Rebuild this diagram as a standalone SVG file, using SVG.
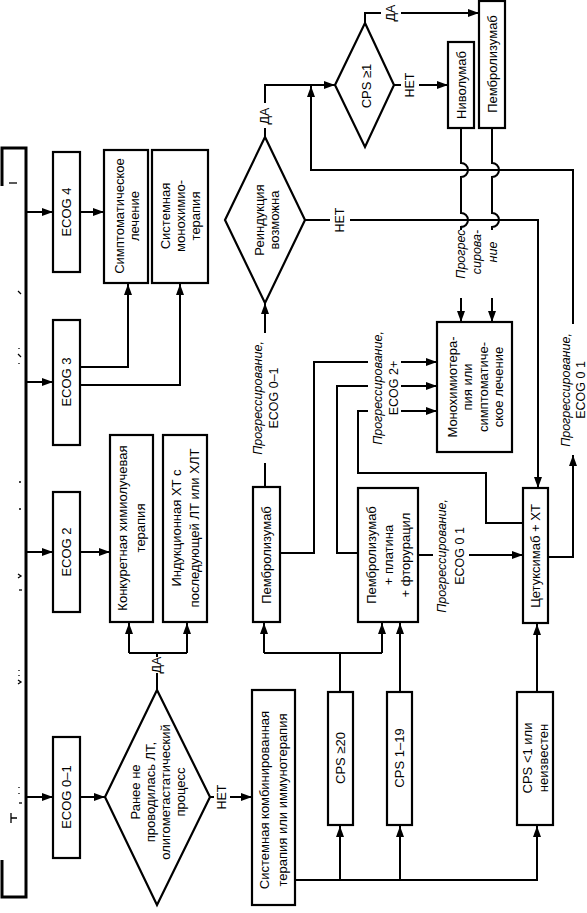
<svg xmlns="http://www.w3.org/2000/svg" width="587" height="913" viewBox="0 0 587 913">
<style>
.box{fill:#fff;stroke:#000;stroke-width:2.2}
.ln{fill:none;stroke:#000;stroke-width:2}
.bar{fill:none;stroke:#000;stroke-width:3}
.mk{fill:none;stroke:#000;stroke-width:1.3}
text{font-family:"Liberation Sans",Arial,sans-serif;font-size:13px;fill:#000;text-anchor:middle;dominant-baseline:central}
.lb{font-size:12.5px}
.it{font-style:italic}
</style>
<defs>
<marker id="ar" markerUnits="userSpaceOnUse" markerWidth="11" markerHeight="8" refX="11" refY="4" orient="auto">
<path d="M0,0 L11,4 L0,8 z" fill="#000"/>
</marker>
</defs>
<rect width="587" height="913" fill="#fff"/>

<g id="connectors">
<path class="bar" d="M2,186 V148 H26 V897 H2 V860"/>
<g class="mk">
<path d="M9,183 H17"/><path d="M18,291 l3,3"/><path d="M19,348 v1"/><path d="M18,354 l3,3"/><path d="M19,363 v1"/><path d="M19,482 h2"/>
<path d="M19,509 h2"/><path d="M18,574 l3,2 l-3,2"/><path d="M19,590 h3"/><path d="M19,670 v1"/><path d="M19,675 v1"/><path d="M18,680 l3,2 l-3,2"/>
<path d="M19,787 v1"/><path d="M19,793 v1"/><path d="M19,803 h3"/><path d="M11,813 v10 M11,818 h6"/>
</g>
<path class="ln" d="M26,212 H53" marker-end="url(#ar)"/>
<path class="ln" d="M26,382 H53" marker-end="url(#ar)"/>
<path class="ln" d="M26,552 H53" marker-end="url(#ar)"/>
<path class="ln" d="M26,797 H53" marker-end="url(#ar)"/>
<path class="ln" d="M80,212 H104" marker-end="url(#ar)"/>
<path class="ln" d="M80,367 H128 V284" marker-end="url(#ar)"/>
<path class="ln" d="M80,385 H180 V284" marker-end="url(#ar)"/>
<path class="ln" d="M80,552 H110" marker-end="url(#ar)"/>
<path class="ln" d="M80,797 H105" marker-end="url(#ar)"/>
<path class="ln" d="M157,690 V673 M157,657 V653 M129,653 H187"/>
<path class="ln" d="M129,653 V623" marker-end="url(#ar)"/>
<path class="ln" d="M187,653 V623" marker-end="url(#ar)"/>
<path class="ln" d="M210,797 H214"/>
<path class="ln" d="M230,797 H252" marker-end="url(#ar)"/>
<path class="ln" d="M295,880 H537 V826" marker-end="url(#ar)"/>
<path class="ln" d="M340,880 V826" marker-end="url(#ar)"/>
<path class="ln" d="M400,880 V826" marker-end="url(#ar)"/>
<path class="ln" d="M340,692 V653 M264,653 H382"/>
<path class="ln" d="M264,653 V623" marker-end="url(#ar)"/>
<path class="ln" d="M382,653 V623" marker-end="url(#ar)"/>
<path class="ln" d="M400,692 V623" marker-end="url(#ar)"/>
<path class="ln" d="M537,692 V624" marker-end="url(#ar)"/>
<path class="ln" d="M265,487 V463"/>
<path class="ln" d="M265,333 V303" marker-end="url(#ar)"/>
<path class="ln" d="M265,137 V128"/>
<path class="ln" d="M265,103 V85 H335" marker-end="url(#ar)"/>
<path class="ln" d="M305,220 H330"/>
<path class="ln" d="M350,220 H538 V488" marker-end="url(#ar)"/>
<path class="ln" d="M365,23 V13 H381"/>
<path class="ln" d="M401,13 H479" marker-end="url(#ar)"/>
<path class="ln" d="M394,85 H401"/>
<path class="ln" d="M419,85 H448" marker-end="url(#ar)"/>
<path class="ln" d="M461,128 V163 a7,7 0 0 1 0,14 V213 a7,7 0 0 1 0,14 V230"/>
<path class="ln" d="M461,298 V322" marker-end="url(#ar)"/>
<path class="ln" d="M492,128 V163 a7,7 0 0 1 0,14 V213 a7,7 0 0 1 0,14 V230"/>
<path class="ln" d="M492,298 V322" marker-end="url(#ar)"/>
<path class="ln" d="M548,557 H573 V455" marker-end="url(#ar)"/>
<path class="ln" d="M573,324 V170 H311 V86" marker-end="url(#ar)"/>
<path class="ln" d="M280,553 H314 V362 H368"/>
<path class="ln" d="M401,362 H437" marker-end="url(#ar)"/>
<path class="ln" d="M358,553 H337 V386 H368"/>
<path class="ln" d="M401,386 H437" marker-end="url(#ar)"/>
<path class="ln" d="M523,523 H486 V473 H358 V411 H368"/>
<path class="ln" d="M401,411 H437" marker-end="url(#ar)"/>
<path class="ln" d="M418,555 H433"/>
<path class="ln" d="M469,555 H523" marker-end="url(#ar)"/>
</g>

<g id="labels">
<text transform="translate(157,665) rotate(-90)" class="lb">ДА</text>
<text transform="translate(222,797) rotate(-90)" class="lb">НЕТ</text>
<text transform="translate(265,116) rotate(-90)" class="lb">ДА</text>
<text transform="translate(340,220) rotate(-90)" class="lb">НЕТ</text>
<text transform="translate(391,13) rotate(-90)" class="lb">ДА</text>
<text transform="translate(410,85) rotate(-90)" class="lb">НЕТ</text>
<text transform="translate(266,398) rotate(-90)" class="lb"><tspan x="0" dy="-8" class="it">Прогрессирование,</tspan><tspan x="0" dy="16">ECOG 0–1</tspan></text>
<text transform="translate(386,388) rotate(-90)" class="lb"><tspan x="0" dy="-8" class="it">Прогрессирование,</tspan><tspan x="0" dy="16">ECOG 2+</tspan></text>
<text transform="translate(451,556) rotate(-90)" class="lb"><tspan x="0" dy="-9" class="it">Прогрессирование,</tspan><tspan x="0" dy="18">ECOG 0 1</tspan></text>
<text transform="translate(573,390) rotate(-90)" class="lb"><tspan x="0" dy="-7" class="it">Прогрессирование,</tspan><tspan x="0" dy="15">ECOG 0 1</tspan></text>
<text transform="translate(477,252) rotate(-90)" class="lb it"><tspan x="0" dy="-16">Прогрес-</tspan><tspan x="0" dy="16">сирова-</tspan><tspan x="0" dy="16">ние</tspan></text>
</g>

<g id="ecog4"><rect class="box" x="53" y="152" width="27" height="120"/><text transform="translate(66.5,212) rotate(-90)">ECOG 4</text></g>
<g id="ecog3"><rect class="box" x="53" y="320" width="27" height="125"/><text transform="translate(66.5,382) rotate(-90)">ECOG 3</text></g>
<g id="ecog2"><rect class="box" x="53" y="492" width="27" height="120"/><text transform="translate(66.5,552) rotate(-90)">ECOG 2</text></g>
<g id="ecog01"><rect class="box" x="53" y="737" width="27" height="121"/><text transform="translate(66.5,797) rotate(-90)">ECOG 0–1</text></g>

<g id="symptom"><rect class="box" x="104" y="150" width="44" height="133"/><text transform="translate(126,216) rotate(-90)"><tspan x="0" dy="-7.5">Симптоматическое</tspan><tspan x="0" dy="15">лечение</tspan></text></g>
<g id="mono"><rect class="box" x="152" y="150" width="56" height="133"/><text transform="translate(180,216) rotate(-90)"><tspan x="0" dy="-15">Системная</tspan><tspan x="0" dy="15">монохимио-</tspan><tspan x="0" dy="15">терапия</tspan></text></g>

<g id="concurrent"><rect class="box" x="110" y="435" width="43" height="187"/><text transform="translate(131,528) rotate(-90)"><tspan x="0" dy="-9">Конкуретная химиолучевая</tspan><tspan x="0" dy="18">терапия</tspan></text></g>
<g id="induction"><rect class="box" x="163" y="435" width="44" height="187"/><text transform="translate(185,528) rotate(-90)"><tspan x="0" dy="-9">Индукционная ХТ с</tspan><tspan x="0" dy="18">последующей ЛТ или ХЛТ</tspan></text></g>

<g id="decision1"><path class="box" d="M157,690 L210,797 L157,905 L105,797 z"/><text transform="translate(157,792) rotate(-90)"><tspan x="0" dy="-22.5">Ранее не</tspan><tspan x="0" dy="15">проводилась ЛТ,</tspan><tspan x="0" dy="15">олигометастатический</tspan><tspan x="0" dy="15">процесс</tspan></text></g>

<g id="systemic"><rect class="box" x="252" y="690" width="43" height="215"/><text transform="translate(273,800) rotate(-90)"><tspan x="0" dy="-9">Системная  комбинированная</tspan><tspan x="0" dy="18">терапия или иммунотерапия</tspan></text></g>

<g id="cps20"><rect class="box" x="328" y="692" width="25" height="133"/><text transform="translate(340.5,758) rotate(-90)">CPS ≥20</text></g>
<g id="cps119"><rect class="box" x="387" y="692" width="25" height="133"/><text transform="translate(399.5,758) rotate(-90)">CPS 1–19</text></g>
<g id="cps1"><rect class="box" x="517" y="692" width="36" height="133"/><text transform="translate(535,758) rotate(-90)"><tspan x="0" dy="-8">CPS &lt;1 или</tspan><tspan x="0" dy="16">неизвестен</tspan></text></g>

<g id="pembro"><rect class="box" x="253" y="487" width="27" height="135"/><text transform="translate(266.5,555) rotate(-90)">Пембролизумаб</text></g>
<g id="pembroplat"><rect class="box" x="358" y="488" width="60" height="134"/><text transform="translate(388,555) rotate(-90)"><tspan x="0" dy="-17">Пембролизумаб</tspan><tspan x="0" dy="17">+ платина</tspan><tspan x="0" dy="17">+ фторурацил</tspan></text></g>
<g id="cetux"><rect class="box" x="523" y="488" width="25" height="135"/><text transform="translate(535.5,556) rotate(-90)">Цетуксимаб + ХТ</text></g>

<g id="reind"><path class="box" d="M265,137 L305,220 L265,303 L225,220 z"/><text transform="translate(266,220) rotate(-90)"><tspan x="0" dy="-7.5">Реиндукция</tspan><tspan x="0" dy="15">возможна</tspan></text></g>
<g id="cps1dec"><path class="box" d="M365,23 L394,85 L365,147 L335,85 z"/><text transform="translate(366,86) rotate(-90)">CPS ≥1</text></g>
<g id="nivo"><rect class="box" x="448" y="42" width="26" height="86"/><text transform="translate(461,85) rotate(-90)">Ниволумаб</text></g>
<g id="pembro2"><rect class="box" x="479" y="1" width="26" height="127"/><text transform="translate(492,64) rotate(-90)">Пембролизумаб</text></g>
<g id="monochemo"><rect class="box" x="437" y="322" width="75" height="130"/><text transform="translate(474.5,387) rotate(-90)"><tspan x="0" dy="-23">Монохимиотера-</tspan><tspan x="0" dy="15.5">пия или</tspan><tspan x="0" dy="15.5">симптоматиче-</tspan><tspan x="0" dy="15.5">ское лечение</tspan></text></g>
</svg>
